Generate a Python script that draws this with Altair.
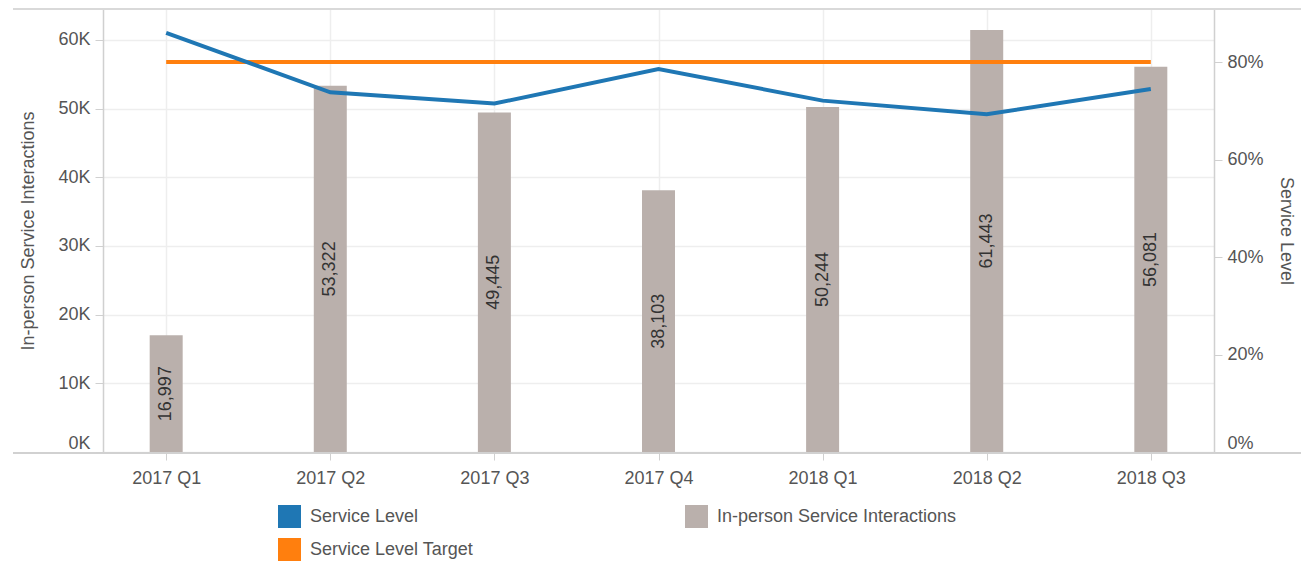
import altair as alt
import pandas as pd

quarters = ["2017 Q1", "2017 Q2", "2017 Q3", "2017 Q4", "2018 Q1", "2018 Q2", "2018 Q3"]
interactions = [16997, 53322, 49445, 38103, 50244, 61443, 56081]
service_level = [0.860, 0.738, 0.715, 0.786, 0.721, 0.693, 0.745]
service_target = [0.80, 0.80, 0.80, 0.80, 0.80, 0.80, 0.80]

series_names = ["Service Level", "Service Level Target", "In-person Service Interactions"]
series_colors = ["#1f77b4", "#ff7f0e", "#bab0ac"]

df = pd.DataFrame({
    "quarter": quarters,
    "interactions": interactions,
    "mid": [v / 2 for v in interactions],
    "sl": service_level,
    "target": service_target,
    "series": ["In-person Service Interactions"] * len(quarters),
})

FONT = "Liberation Sans"
LABEL = "#555555"
W, H = 1111, 443

x = alt.X("quarter:N", sort=quarters, title=None,
          scale=alt.Scale(type="point", padding=0.385),
          axis=alt.Axis(labelFontSize=18, labelFont=FONT, labelColor=LABEL, labelAngle=0,
                        labelPadding=9, tickSize=8, tickColor="#d0d0d0", domain=False,
                        grid=True, gridColor="#eeeeee", gridWidth=1.5))

left_scale = alt.Scale(domain=[0, 64500], nice=False)
right_scale = alt.Scale(domain=[0, 0.909], nice=False)

left_axis = alt.Axis(values=[0, 10000, 20000, 30000, 40000, 50000, 60000],
                     labelExpr="datum.value / 1000 + 'K'",
                     labelFontSize=18, labelFont=FONT, labelColor=LABEL,
                     labelFlush=True, labelPadding=5, tickSize=8, tickColor="#d0d0d0",
                     domainColor="#d0d0d0", domainWidth=1.5,
                     grid=True, gridColor="#eeeeee", gridWidth=1.5,
                     titleFontSize=18, titleFont=FONT, titleColor=LABEL,
                     titleFontWeight="normal", titlePadding=20)

bars = alt.Chart(df).mark_bar(size=33).encode(
    x=x,
    y=alt.Y("interactions:Q", scale=left_scale, title="In-person Service Interactions",
            axis=left_axis),
    color=alt.Color("series:N",
                    scale=alt.Scale(domain=series_names, range=series_colors),
                    legend=alt.Legend(title=None, orient="none", legendX=175, legendY=496,
                                      columns=2, columnPadding=211, rowPadding=10, padding=0,
                                      symbolType="square", symbolSize=529, symbolStrokeWidth=0,
                                      labelFontSize=18, labelFont=FONT, labelColor=LABEL,
                                      labelOffset=9, labelLimit=400)),
)

labels = alt.Chart(df).mark_text(angle=270, fontSize=18, font=FONT, color="#333333").encode(
    x=alt.X("quarter:N", sort=quarters),
    y=alt.Y("mid:Q", scale=left_scale, title="In-person Service Interactions", axis=left_axis),
    text=alt.Text("interactions:Q", format=","),
)

top_rule = alt.Chart(df).mark_rule(color="#d8d8d8", strokeWidth=1.5).encode(
    x=alt.value(-90), x2=alt.value(W + 87), y=alt.value(0))
bottom_rule = alt.Chart(df).mark_rule(color="#d0d0d0", strokeWidth=1.5).encode(
    x=alt.value(-90), x2=alt.value(W + 87), y=alt.value(H + 1))

left_layer = alt.layer(bars, labels, top_rule, bottom_rule)

sl_line = alt.Chart(df).mark_line(strokeWidth=4, color="#1f77b4").encode(
    x=alt.X("quarter:N", sort=quarters),
    y=alt.Y("sl:Q", scale=right_scale, title="Service Level",
            axis=alt.Axis(orient="right", values=[0, 0.2, 0.4, 0.6, 0.8], format=".0%",
                          labelFontSize=18, labelFont=FONT, labelColor=LABEL,
                          labelFlush=True, labelPadding=5, tickSize=8, tickColor="#d0d0d0",
                          domainColor="#d0d0d0", domainWidth=1.5, grid=False,
                          titleFontSize=18, titleFont=FONT, titleColor=LABEL,
                          titleFontWeight="normal", titlePadding=13)),
)
target_line = alt.Chart(df).mark_line(strokeWidth=4, color="#ff7f0e").encode(
    x=alt.X("quarter:N", sort=quarters),
    y=alt.Y("target:Q", scale=right_scale),
)
right_layer = alt.layer(target_line, sl_line)

chart = alt.layer(left_layer, right_layer).resolve_scale(y="independent").properties(
    width=W, height=H,
    autosize=alt.AutoSizeParams(type="none"),
    padding={"left": 95, "top": 1, "right": 87, "bottom": 109},
).configure_view(stroke=None)

chart.save("out.html", embed_options={"renderer": "svg", "actions": False})
